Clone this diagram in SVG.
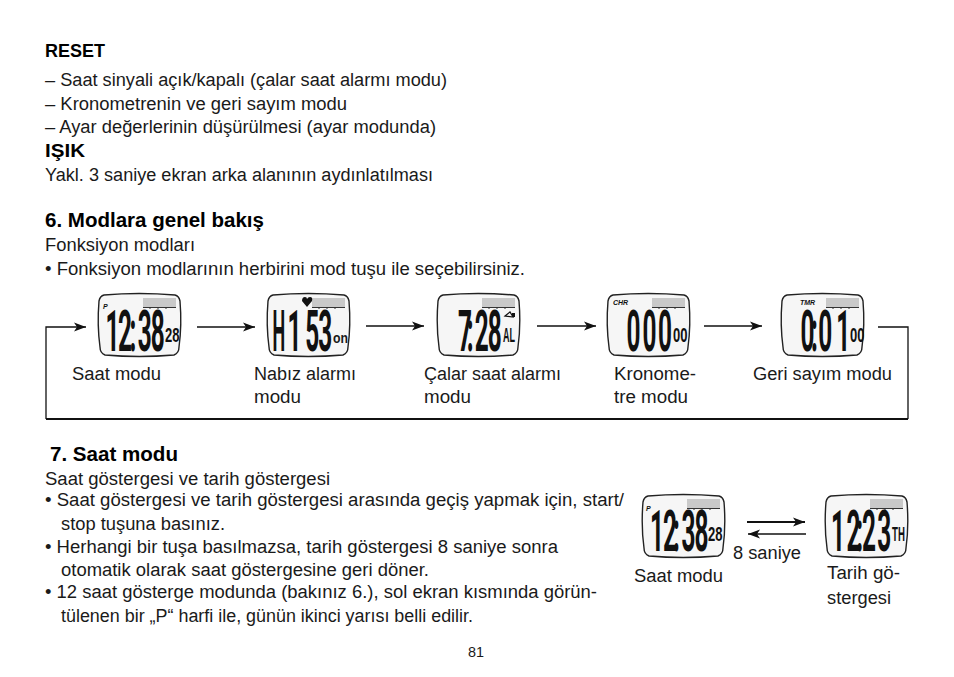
<svg xmlns="http://www.w3.org/2000/svg" width="954" height="677" viewBox="0 0 954 677">
<style>
text{font-family:"Liberation Sans",Arial,sans-serif;fill:#1a1a1a}
.t{font-size:18px}
.b{font-size:18px;font-weight:bold;fill:#000}
.h{font-size:20px;font-weight:bold;fill:#000}
.lcd{font-family:Roboto,"Liberation Sans",sans-serif;font-size:58px;font-weight:bold;fill:#111}
.sm{font-size:21px;font-weight:bold;fill:#111}
.tag{font-size:7px;font-weight:bold;font-style:italic;fill:#111}
.body{fill:#f6f6f6;stroke:#222;stroke-width:1.4}
.bar{fill:#c9c9c9}
.tick{fill:none;stroke:#333;stroke-width:1}
.c{fill:none;stroke:#111;stroke-width:1.3}
</style>
<defs>
<marker id="a" markerUnits="userSpaceOnUse" markerWidth="13" markerHeight="10" refX="12" refY="5" orient="auto"><path d="M0,0.5 L12,5 L0,9.5 L3,5 Z" fill="#111"/></marker>
<g id="lcd"><path class="body" d="M6,2 Q41,-1 77,2 Q81,3 82,8 Q84,32 81,54 Q81,60 76,62 Q41,65 7,62 Q2,60 2,54 Q-1,32 1,8 Q2,3 6,2 Z"/><rect class="bar" x="45" y="5" width="33" height="9"/><path class="tick" d="M45,14.500H78M52,14.500V16M60,14.500V16M68,14.500V16"/></g>
</defs>
<rect width="954" height="677" fill="#fff"/>
<g id="page-text">
<text class="b" x="45" y="57" textLength="60" lengthAdjust="spacingAndGlyphs">RESET</text>
<text class="t" x="45" y="86" textLength="402" lengthAdjust="spacingAndGlyphs">– Saat sinyali açık/kapalı (çalar saat alarmı modu)</text>
<text class="t" x="45" y="110" textLength="302" lengthAdjust="spacingAndGlyphs">– Kronometrenin ve geri sayım modu</text>
<text class="t" x="45" y="133" textLength="391" lengthAdjust="spacingAndGlyphs">– Ayar değerlerinin düşürülmesi (ayar modunda)</text>
<text class="b" x="45" y="157" textLength="40" lengthAdjust="spacingAndGlyphs">IŞIK</text>
<text class="t" x="45" y="181" textLength="388" lengthAdjust="spacingAndGlyphs">Yakl. 3 saniye ekran arka alanının aydınlatılması</text>
<text class="h" x="45" y="227" textLength="219" lengthAdjust="spacingAndGlyphs">6. Modlara genel bakış</text>
<text class="t" x="45" y="251" textLength="150" lengthAdjust="spacingAndGlyphs">Fonksiyon modları</text>
<text class="t" x="45" y="275" textLength="480" lengthAdjust="spacingAndGlyphs">• Fonksiyon modlarının herbirini mod tuşu ile seçebilirsiniz.</text>
<text class="h" x="50" y="461" textLength="128" lengthAdjust="spacingAndGlyphs">7. Saat modu</text>
<text class="t" x="45" y="485" textLength="285" lengthAdjust="spacingAndGlyphs">Saat göstergesi ve tarih göstergesi</text>
<text class="t" x="45" y="506" textLength="579" lengthAdjust="spacingAndGlyphs">• Saat göstergesi ve tarih göstergesi arasında geçiş yapmak için, start/</text>
<text class="t" x="61" y="530" textLength="164" lengthAdjust="spacingAndGlyphs">stop tuşuna basınız.</text>
<text class="t" x="45" y="553" textLength="513" lengthAdjust="spacingAndGlyphs">• Herhangi bir tuşa basılmazsa, tarih göstergesi 8 saniye sonra</text>
<text class="t" x="61" y="576" textLength="368" lengthAdjust="spacingAndGlyphs">otomatik olarak saat göstergesine geri döner.</text>
<text class="t" x="45" y="598" textLength="552" lengthAdjust="spacingAndGlyphs">• 12 saat gösterge modunda (bakınız 6.), sol ekran kısmında görün-</text>
<text class="t" x="61" y="622" textLength="412" lengthAdjust="spacingAndGlyphs">tülenen bir „P“ harfi ile, günün ikinci yarısı belli edilir.</text>
<text x="468" y="657" font-size="14" textLength="16" lengthAdjust="spacingAndGlyphs">81</text>
</g>
<g id="connectors">
<path class="c" d="M878,327H908V419"/>
<path d="M908,419H46" fill="none" stroke="#111" stroke-width="2"/>
<path class="c" d="M46,419V327H86" marker-end="url(#a)"/>
<path class="c" d="M197,327H255" marker-end="url(#a)"/>
<path class="c" d="M366,326H424" marker-end="url(#a)"/>
<path class="c" d="M537,326H596" marker-end="url(#a)"/>
<path class="c" d="M704,326H762" marker-end="url(#a)"/>
<path d="M747,522H805" fill="none" stroke="#111" stroke-width="1.8" marker-end="url(#a)"/>
<path class="c" d="M806,534H748" marker-end="url(#a)"/>
</g>
<g id="node-saat-modu">
<use href="#lcd" x="98" y="293"/>
<text class="tag" x="103" y="309">P</text>
<text class="lcd" transform="translate(105.500,351) scale(.42,1)" x="0 30 57 77 108" y="0">12:38</text>
<text class="sm" transform="translate(165,342) scale(.62,1)">28</text>
<text class="t" x="72" y="380" textLength="89" lengthAdjust="spacingAndGlyphs">Saat modu</text>
</g>
<g id="node-nabiz-alarmi">
<use href="#lcd" x="267" y="293"/>
<path d="M307,307 L302,301 Q302,297 305,297 Q307,297 307,299 Q308,297 310,297 Q313,297 312,301 Z" fill="#111"/>
<text class="lcd" transform="translate(272.500,351) scale(.31,1)">H</text>
<text class="lcd" transform="translate(287.500,351) scale(.42,1)" x="0 42 73" y="0">153</text>
<text x="333" y="343" font-size="14" font-weight="bold" fill="#111" textLength="15" lengthAdjust="spacingAndGlyphs">on</text>
<text class="t" x="254" y="380" textLength="102" lengthAdjust="spacingAndGlyphs">Nabız alarmı</text>
<text class="t" x="254" y="403" textLength="47" lengthAdjust="spacingAndGlyphs">modu</text>
</g>
<g id="node-calar-saat">
<use href="#lcd" x="437" y="293"/>
<text class="lcd" transform="translate(458,351) scale(.42,1)" x="0 21 40 71" y="0">7:28</text>
<path d="M505,316 L510,312 L513,317 Z" fill="none" stroke="#111" stroke-width="1.200"/><path d="M512,313h3v4h-3z" fill="#111"/>
<text class="sm" transform="translate(503,342) scale(.43,1)">AL</text>
<text class="t" x="424" y="380" textLength="137" lengthAdjust="spacingAndGlyphs">Çalar saat alarmı</text>
<text class="t" x="424" y="403" textLength="47" lengthAdjust="spacingAndGlyphs">modu</text>
</g>
<g id="node-kronometre">
<use href="#lcd" x="607" y="293"/>
<text class="tag" x="613" y="305">CHR</text>
<text class="lcd" transform="translate(626.500,351) scale(.42,1)" x="0 38 75" y="0">000</text>
<text class="sm" transform="translate(673,342) scale(.62,1)">00</text>
<text class="t" x="614" y="380" textLength="82" lengthAdjust="spacingAndGlyphs">Kronome-</text>
<text class="t" x="614" y="403" textLength="74" lengthAdjust="spacingAndGlyphs">tre modu</text>
</g>
<g id="node-geri-sayim">
<use href="#lcd" x="781" y="293"/>
<text class="tag" x="800" y="305">TMR</text>
<text class="lcd" transform="translate(800.500,351) scale(.42,1)" x="0 25 42 85" y="0">0:01</text>
<text class="sm" transform="translate(850,342) scale(.62,1)">00</text>
<text class="t" x="753" y="380" textLength="139" lengthAdjust="spacingAndGlyphs">Geri sayım modu</text>
</g>
<g id="node-saat-modu-2">
<use href="#lcd" x="642" y="494"/>
<text class="tag" x="646" y="511">P</text>
<text class="lcd" transform="translate(650,551) scale(.42,1)" x="0 31 55 75 106" y="0">12:38</text>
<text class="sm" transform="translate(708,541) scale(.62,1)">28</text>
<text class="t" x="634" y="582" textLength="89" lengthAdjust="spacingAndGlyphs">Saat modu</text>
</g>
<text id="label-8-saniye" class="t" x="733" y="559" textLength="68" lengthAdjust="spacingAndGlyphs">8 saniye</text>
<g id="node-tarih">
<use href="#lcd" x="825" y="494"/>
<text class="lcd" transform="translate(831,551) scale(.42,1)" x="0 37 60 74 110" y="0">12:23</text>
<text class="sm" transform="translate(892,541) scale(.46,1)">TH</text>
<text class="t" x="827" y="579" textLength="73" lengthAdjust="spacingAndGlyphs">Tarih gö-</text>
<text class="t" x="827" y="604" textLength="64" lengthAdjust="spacingAndGlyphs">stergesi</text>
</g>
</svg>
